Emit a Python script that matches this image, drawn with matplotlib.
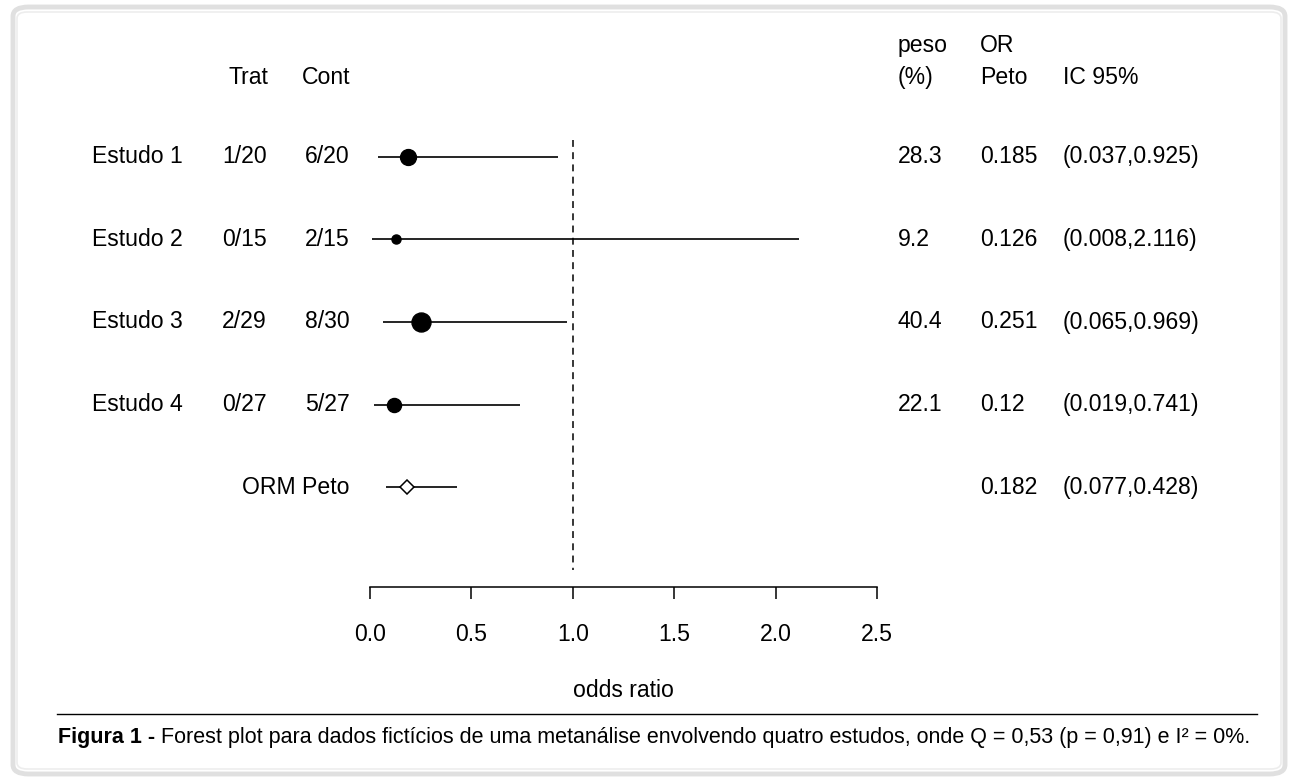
import matplotlib
matplotlib.use("Agg")
import matplotlib.pyplot as plt
import matplotlib.transforms as mtransforms
from matplotlib.patches import FancyBboxPatch
from matplotlib.lines import Line2D
import numpy as np

plt.rcParams['font.family'] = ['Liberation Sans', 'DejaVu Sans']

# dados dos estudos
estudos = ["Estudo 1", "Estudo 2", "Estudo 3", "Estudo 4"]
trat = ["1/20", "0/15", "2/29", "0/27"]
cont = ["6/20", "2/15", "8/30", "5/27"]
peso = [28.3, 9.2, 40.4, 22.1]
or_peto = [0.185, 0.126, 0.251, 0.12]
ic_inf = [0.037, 0.008, 0.065, 0.019]
ic_sup = [0.925, 2.116, 0.969, 0.741]

# estimativa combinada
orm_label = "ORM Peto"
orm = 0.182
orm_inf = 0.077
orm_sup = 0.428

xticks = [0.0, 0.5, 1.0, 1.5, 2.0, 2.5]

W, H = 1293, 778
fig = plt.figure(figsize=(W / 100, H / 100), dpi=100)


def px(x):
    return x / W


def py(y):
    return 1 - y / H


# moldura
fig.add_artist(FancyBboxPatch((px(13), py(774)), px(1272), 767 / H,
                              boxstyle="round,pad=0,rounding_size=0.012",
                              transform=fig.transFigure, fill=False,
                              edgecolor="#e0e0e0", linewidth=3.5))
fig.add_artist(FancyBboxPatch((px(17), py(769)), px(1264), 757 / H,
                              boxstyle="round,pad=0,rounding_size=0.008",
                              transform=fig.transFigure, fill=False,
                              edgecolor="#ededed", linewidth=1.2))

ax = fig.add_axes([px(370), py(587), px(877 - 370), 587 / H])
ax.set_xlim(0, 2.5)
passo = 82.65
ax.set_ylim((587 - 156.7) / passo, -156.7 / passo)
for s in ["left", "right", "top"]:
    ax.spines[s].set_visible(False)
ax.spines["bottom"].set_linewidth(1.1)
ax.set_yticks([])
ax.set_xticks(xticks)
ax.set_xticklabels([f"{t:.1f}" for t in xticks])
fs = 16.6
ax.tick_params(axis="x", direction="out", length=8.7, width=1.1,
               labelsize=fs, pad=17)
ax.set_xlabel("odds ratio", fontsize=fs, labelpad=24)
ax.patch.set_visible(False)

# linha de referencia
ax.vlines(1.0, -0.2, 5.0, colors="black", linestyles=(0, (4.5, 3.5)), linewidth=1.1)

n = len(estudos)
linhas = np.arange(n)
ax.hlines(linhas, ic_inf, ic_sup, colors="black", linewidth=1.2)
for i in range(n):
    ax.plot(or_peto[i], linhas[i], "o", color="black",
            markersize=2.15 * np.sqrt(peso[i]), clip_on=False)

ax.hlines(n, orm_inf, orm_sup, colors="black", linewidth=1.2)
ax.plot(orm, n, "D", markerfacecolor="white", markeredgecolor="black",
        markersize=7, markeredgewidth=1.1, zorder=3)

tr = mtransforms.blended_transform_factory(fig.transFigure, ax.transData)


def texto(x, y, s, ha="left"):
    ax.text(px(x), y, s, transform=tr, ha=ha, va="center", fontsize=fs)


# cabecalhos
yh2 = (77 - 156.7) / passo
yh1 = (45 - 156.7) / passo
texto(268, yh2, "Trat", ha="right")
texto(350, yh2, "Cont", ha="right")
texto(898, yh1, "peso")
texto(898, yh2, "(%)")
texto(980, yh1, "OR")
texto(980, yh2, "Peto")
texto(1063, yh2, "IC 95%")

for i in range(n):
    texto(183, linhas[i], estudos[i], ha="right")
    texto(267, linhas[i], trat[i], ha="right")
    texto(350, linhas[i], cont[i], ha="right")
    texto(898, linhas[i], f"{peso[i]}")
    texto(980, linhas[i], f"{or_peto[i]}")
    texto(1063, linhas[i], f"({ic_inf[i]},{ic_sup[i]})")

texto(350, n, orm_label, ha="right")
texto(980, n, f"{orm}")
texto(1063, n, f"({orm_inf},{orm_sup})")

# legenda da figura
fs_leg = 15.5
fig.add_artist(Line2D([px(57), px(1257)], [py(714), py(714)],
                      color="black", linewidth=1.0))
t1 = fig.text(px(58), py(737), "Figura 1 -", fontsize=fs_leg,
              fontweight="bold", va="center", ha="left")
fig.text(1.0, 0.5, " Forest plot para dados fictícios de uma metanálise "
         "envolvendo quatro estudos, onde Q = 0,53 (p = 0,91) e I² = 0%.",
         fontsize=fs_leg, va="center", ha="left",
         transform=mtransforms.BboxTransformTo(t1.get_window_extent(
             fig.canvas.get_renderer())))

fig.savefig("out.png", dpi=100)
